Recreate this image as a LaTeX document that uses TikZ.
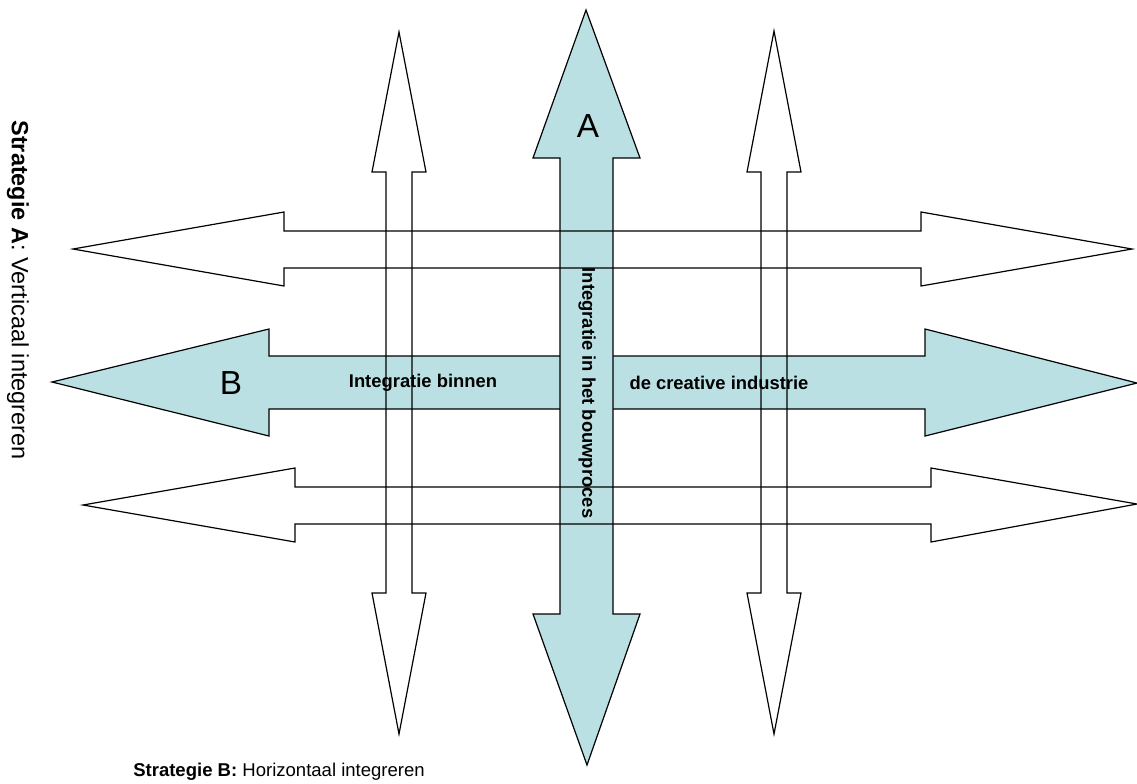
\documentclass[tikz,border=0pt]{standalone}
\usepackage{fontspec}
\setmainfont{Liberation Sans}
\definecolor{paleblue}{RGB}{186,224,228}
\begin{document}
\begin{tikzpicture}[x=0.75pt,y=-0.75pt,
  outline/.style={draw=black,line width=0.9pt,line join=miter},
  bluearrow/.style={outline,fill=paleblue},
  openarrow/.style={outline},
  biglabel/.style={font=\fontsize{25}{28}\selectfont,inner sep=0pt},
  smalllabel/.style={font=\fontsize{13.8}{16}\selectfont\bfseries,inner sep=0pt},
  sidelabel/.style={font=\fontsize{13.9}{16}\selectfont,inner sep=0pt}]
\useasboundingbox (0,0) rectangle (1137,783);
% horizontal strategy arrow B
\draw[bluearrow] (52,382) -- (269,329) -- (269,356) -- (925,356) -- (925,329)
  -- (1137,383) -- (925,436) -- (925,409) -- (269,409) -- (269,436) -- cycle;
% vertical strategy arrow A
\draw[bluearrow] (586,10) -- (640,158) -- (613,158) -- (613,614) -- (640,614)
  -- (587,765) -- (533,614) -- (560,614) -- (560,158) -- (533,158) -- cycle;
% upper open horizontal arrow
\draw[openarrow] (73,249) -- (284,212) -- (284,231) -- (921,231) -- (921,212)
  -- (1132,249) -- (921,286) -- (921,268) -- (284,268) -- (284,286) -- cycle;
% lower open horizontal arrow
\draw[openarrow] (83,505) -- (295,468) -- (295,487) -- (931,487) -- (931,468)
  -- (1137,504) -- (931,542) -- (931,524) -- (295,524) -- (295,542) -- cycle;
% left open vertical arrow
\draw[openarrow] (399,32) -- (426,172) -- (412,172) -- (412,593) -- (426,593)
  -- (399,734) -- (372,593) -- (386,593) -- (386,172) -- (372,172) -- cycle;
% right open vertical arrow
\draw[openarrow] (774,31) -- (801,172) -- (787,172) -- (787,593) -- (801,593)
  -- (774,734) -- (747,593) -- (761,593) -- (761,172) -- (747,172) -- cycle;
% labels
\node[biglabel] (la) at (588,126) {A};
\node[biglabel] (lb) at (231,383) {B};
\node[smalllabel] (binnen) at (423,383) {Integratie binnen};
\node[smalllabel] (industrie) at (719,383) {de creative industrie};
\node[smalllabel,rotate=-90] (bouw) at (587,393) {Integratie in het bouwproces};
\node[sidelabel,rotate=-90,font=\fontsize{17.6}{20}\selectfont] (stratA) at (18,290) {\textbf{Strategie A}: Verticaal integreren};
\node[sidelabel,anchor=west] (stratB) at (133,772) {\textbf{Strategie B:} Horizontaal integreren};
\end{tikzpicture}
\end{document}
